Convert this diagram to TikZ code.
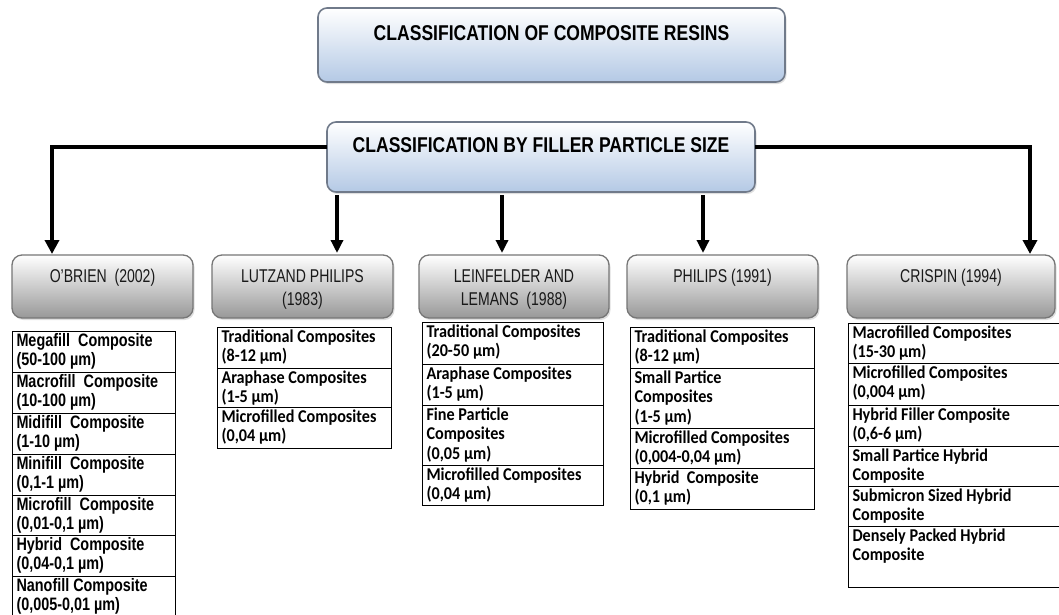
\documentclass[tikz,border=0pt]{standalone}
\usepackage{fontspec}
\setmainfont{Liberation Sans}
\newfontfamily\hdfont[FakeStretch=0.82]{Liberation Sans}
\newfontfamily\lvfont[FakeStretch=0.76]{Liberation Sans}
\newfontfamily\obfont[FakeStretch=0.8]{Liberation Sans}
\newfontfamily\cellfont[FakeStretch=0.9]{Carlito}
\usetikzlibrary{arrows.meta,shadows}
\definecolor{hdblue}{RGB}{180,201,229}
\definecolor{hdborder}{RGB}{112,122,138}
\definecolor{lvgray}{RGB}{152,152,152}
\definecolor{lvborder}{RGB}{118,118,118}
\newcommand{\boxtxt}[4]{\parbox[t][#2][t]{#1}{\centering\rule{0pt}{#3}#4}}
\newcommand{\celltxt}[3]{\parbox[t][#2][t]{#1}{\raggedright\rule{0pt}{15pt}#3}}
\tikzset{
  hbox/.style={rounded corners=9pt, draw=hdborder, line width=1.6pt, top color=white, bottom color=hdblue,
    inner sep=0pt, outer sep=0pt, text=black, font=\hdfont\bfseries\fontsize{21.4}{25}\selectfont,
    drop shadow={opacity=0.25, shadow xshift=1.5pt, shadow yshift=-2pt}},
  lbox/.style={rounded corners=10pt, draw=lvborder, line width=1.3pt, top color=white, bottom color=lvgray,
    inner sep=0pt, outer sep=0pt, text=black!90, font=\lvfont\fontsize{18.5}{23}\selectfont,
    drop shadow={opacity=0.25, shadow xshift=1.5pt, shadow yshift=-2pt}},
  cell/.style={draw=black, line width=1pt, inner xsep=4.5pt, inner ysep=0pt, outer sep=0pt, anchor=north west,
    text=black, font=\cellfont\bfseries\fontsize{18}{19.5}\selectfont},
  obcell/.style={cell, font=\obfont\bfseries\fontsize{18}{19.5}\selectfont},
  conn/.style={line width=4.5pt, shorten >=1pt, -{Triangle[length=14pt,width=14pt]}},
  sarr/.style={line width=3.5pt, shorten <=3pt, shorten >=2pt, -{Triangle[length=13pt,width=12pt]}}
}
\begin{document}
\begin{tikzpicture}[x=1pt,y=-1pt]
\fill[white] (0,0) rectangle (1059,614);
\useasboundingbox (0,0) rectangle (1059,614);

% headers
\node[hbox] (title) at (551.5,45) {\boxtxt{467pt}{74pt}{32pt}{CLASSIFICATION OF COMPOSITE RESINS}};
\node[hbox] (sub) at (541,157) {\boxtxt{428pt}{70pt}{30pt}{CLASSIFICATION BY FILLER PARTICLE SIZE}};

% level 3
\node[lbox] (obr) at (102.5,286.5) {\boxtxt{181pt}{63pt}{27.5pt}{O’BRIEN~ (2002)}};
\node[lbox] (lut) at (302.5,286.5) {\boxtxt{181pt}{63pt}{27.5pt}{LUTZAND PHILIPS\\(1983)}};
\node[lbox] (lei) at (514,286.5) {\boxtxt{190pt}{63pt}{27.5pt}{LEINFELDER AND\\LEMANS~ (1988)}};
\node[lbox] (phi) at (722.5,286.5) {\boxtxt{191pt}{63pt}{27.5pt}{PHILIPS (1991)}};
\node[lbox] (cri) at (951,286.5) {\boxtxt{208pt}{63pt}{27.5pt}{CRISPIN (1994)}};

% connectors
\draw[conn] ([yshift=10pt]sub.west) -| ([xshift=40pt]obr.north west);
\draw[conn] ([yshift=10pt]sub.east) -| ([xshift=-25pt]cri.north east);
\coordinate (a1) at ([xshift=10pt]sub.south west);
\coordinate (a2) at ([xshift=-39pt]sub.south);
\coordinate (a3) at ([xshift=162pt]sub.south);
\draw[sarr] (a1) -- (a1 |- lut.north);
\draw[sarr] (a2) -- (a2 |- lei.north);
\draw[sarr] (a3) -- (a3 |- phi.north);

% O'BRIEN list
\node[obcell] (o1) at (12,331) {\celltxt{154pt}{41pt}{Megafill~ Composite\\(50-100 µm)}};
\node[obcell] (o2) at (o1.south west) {\celltxt{154pt}{41pt}{Macrofill~ Composite\\(10-100 µm)}};
\node[obcell] (o3) at (o2.south west) {\celltxt{154pt}{41pt}{Midifill~ Composite\\(1-10 µm)}};
\node[obcell] (o4) at (o3.south west) {\celltxt{154pt}{41pt}{Minifill~ Composite\\(0,1-1 µm)}};
\node[obcell] (o5) at (o4.south west) {\celltxt{154pt}{40pt}{Microfill~ Composite\\(0,01-0,1 µm)}};
\node[obcell] (o6) at (o5.south west) {\celltxt{154pt}{41pt}{Hybrid~ Composite\\(0,04-0,1 µm)}};
\node[obcell] (o7) at (o6.south west) {\celltxt{154pt}{42pt}{Nanofill Composite\\(0,005-0,01 µm)}};

% LUTZAND list
\node[cell] (l1) at (217,327) {\celltxt{165pt}{41pt}{Traditional Composites\\(8-12 µm)}};
\node[cell] (l2) at (l1.south west) {\celltxt{165pt}{39pt}{Araphase Composites\\(1-5 µm)}};
\node[cell] (l3) at (l2.south west) {\celltxt{165pt}{41pt}{Microfilled Composites\\(0,04 µm)}};

% LEINFELDER list
\node[cell] (e1) at (422,322) {\celltxt{172pt}{42pt}{Traditional Composites\\(20-50 µm)}};
\node[cell] (e2) at (e1.south west) {\celltxt{172pt}{41pt}{Araphase Composites\\(1-5 µm)}};
\node[cell] (e3) at (e2.south west) {\celltxt{172pt}{60pt}{Fine Particle\\Composites\\(0,05 µm)}};
\node[cell] (e4) at (e3.south west) {\celltxt{172pt}{40pt}{Microfilled Composites\\(0,04 µm)}};

% PHILIPS list
\node[cell] (p1) at (630,327) {\celltxt{175pt}{41pt}{Traditional Composites\\(8-12 µm)}};
\node[cell] (p2) at (p1.south west) {\celltxt{175pt}{60pt}{Small Partice\\Composites\\(1-5 µm)}};
\node[cell] (p3) at (p2.south west) {\celltxt{175pt}{40pt}{Microfilled Composites\\(0,004-0,04 µm)}};
\node[cell] (p4) at (p3.south west) {\celltxt{175pt}{41pt}{Hybrid~ Composite\\(0,1 µm)}};

% CRISPIN list
\node[cell] (c1) at (848,323) {\celltxt{205pt}{40pt}{Macrofilled Composites\\(15-30 µm)}};
\node[cell] (c2) at (c1.south west) {\celltxt{205pt}{42pt}{Microfilled Composites\\(0,004 µm)}};
\node[cell] (c3) at (c2.south west) {\celltxt{205pt}{41pt}{Hybrid Filler Composite\\(0,6-6 µm)}};
\node[cell] (c4) at (c3.south west) {\celltxt{205pt}{40pt}{Small Partice Hybrid\\Composite}};
\node[cell] (c5) at (c4.south west) {\celltxt{205pt}{40pt}{Submicron Sized Hybrid\\Composite}};
\node[cell] (c6) at (c5.south west) {\celltxt{205pt}{61pt}{Densely Packed Hybrid\\Composite}};
\end{tikzpicture}
\end{document}
